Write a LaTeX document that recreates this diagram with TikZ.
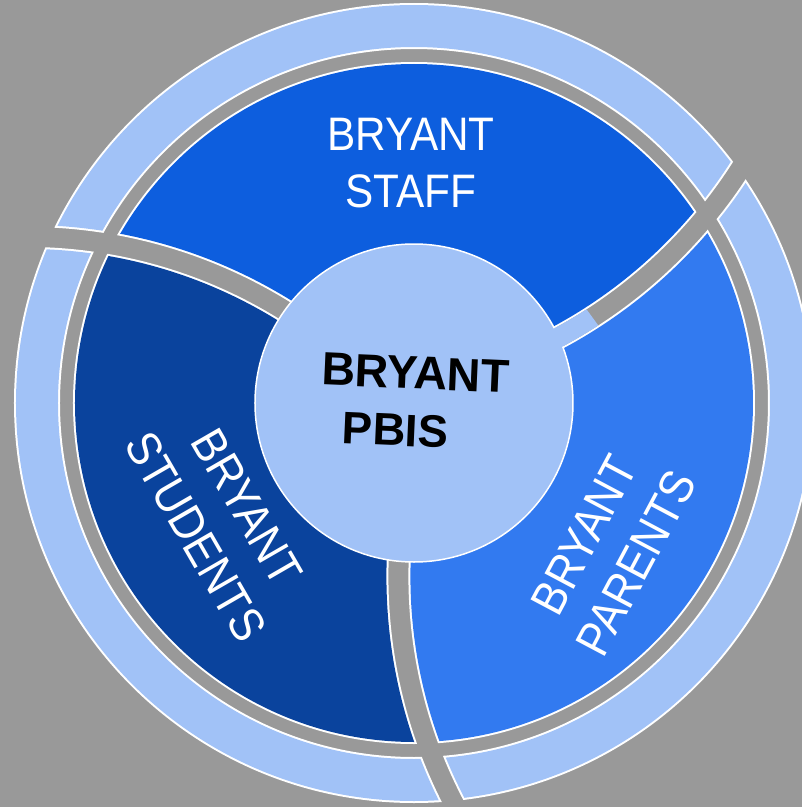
\documentclass[tikz,border=0pt]{standalone}
\usepackage{fontspec}
\newfontfamily\labelfont[FakeStretch=0.9]{Liberation Sans}
\newfontfamily\centerfont{Liberation Sans}
\definecolor{bgc}{HTML}{999999}
\definecolor{staffc}{HTML}{0D5EDE}
\definecolor{studc}{HTML}{0A439D}
\definecolor{parc}{HTML}{327AF0}
\definecolor{lightc}{HTML}{A1C2F7}
\newcommand\mypiece[3]{%
 \begin{scope}[even odd rule]
  \clip (#1) circle[radius=482pt];
  \clip (-500,-500) rectangle (500,500) (#2) circle[radius=502pt];
  \fill[white] (O) circle[radius=400pt] (O) circle[radius=354pt];
  \fill[white] (O) circle[radius=341pt];
 \end{scope}
 \begin{scope}[even odd rule]
  \clip (#1) circle[radius=480pt];
  \clip (-500,-500) rectangle (500,500) (#2) circle[radius=504pt];
  \fill[lightc] (O) circle[radius=398pt] (O) circle[radius=356pt];
  \fill[#3] (O) circle[radius=339pt];
 \end{scope}}
\begin{document}
\begin{tikzpicture}[x=1pt,y=1pt,
  lbl/.style={text=white, inner sep=0pt, align=center},
  ctr/.style={text=black, inner sep=0pt}]
\useasboundingbox (-414,-404) rectangle (388,403);
\fill[bgc] (-414,-404) rectangle (388,403);
\coordinate (O) at (0,0);
\coordinate (C1) at (220:507);
\coordinate (C2) at (340:507);
\coordinate (C3) at (100:507);
% three sectors (outer ring piece + middle piece)
\mypiece{C3}{C1}{staffc}
\mypiece{C1}{C2}{studc}
\mypiece{C2}{C3}{parc}
% hub
\node[circle, draw=white, line width=1.5pt, fill=lightc, minimum size=318pt, inner sep=0pt] (hub) at (O) {};
% light patch in the staff/parents gap
\begin{scope}[even odd rule]
 \clip (O) -- (165,104) -- (192,67) -- cycle;
 \fill[lightc] (C3) circle[radius=502pt] (C3) circle[radius=482pt];
\end{scope}
% labels
\node[lbl, font=\labelfont\fontsize{47}{57}\selectfont] (staff) at (-3,240) {BRYANT\\STAFF};
\node[lbl, font=\labelfont\fontsize{48}{59}\selectfont, rotate=-60] (students) at (-193,-119) {BRYANT\\STUDENTS};
\node[lbl, font=\labelfont\fontsize{48}{59}\selectfont, rotate=62] (parents) at (196.5,-146) {BRYANT\\PARENTS};
\node[ctr, font=\centerfont\bfseries\fontsize{46.5}{54}\selectfont, rotate=-2.5] (cbryant) at (1.5,30) {BRYANT};
\node[ctr, font=\centerfont\bfseries\fontsize{45.5}{54}\selectfont, rotate=-2.5] (cpbis) at (-18.5,-27) {PBIS};
\end{tikzpicture}
\end{document}
